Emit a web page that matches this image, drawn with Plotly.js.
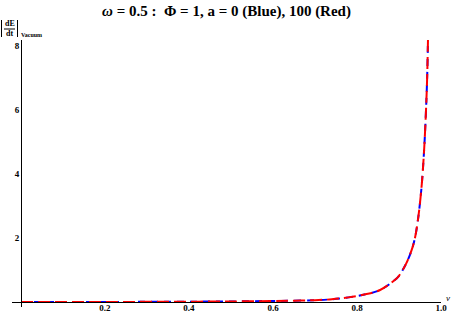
<!DOCTYPE html>
<html>
<head>
<meta charset="utf-8">
<script src="https://cdn.plot.ly/plotly-3.0.1.min.js"></script>
<style>html,body{margin:0;padding:0;background:#fff;}#chart{width:453px;height:314px;}</style>
</head>
<body>
<div id="chart"></div>
<script>
// Data
var vBlue = [0, 0.1, 0.2, 0.3, 0.4, 0.5, 0.6, 0.65, 0.7, 0.74, 0.78, 0.82, 0.855, 0.89, 0.9, 0.917, 0.93, 0.938, 0.945, 0.95, 0.955, 0.96, 0.964, 0.967, 0.969];
var eBlue = [0, 0.0003, 0.002, 0.005, 0.01, 0.018, 0.032, 0.042, 0.058, 0.085, 0.145, 0.24, 0.375, 0.69, 0.82, 1.2, 1.62, 2.0, 2.56, 3.1, 3.8, 4.8, 5.9, 7.0, 8.19];
var vRed = [0, 0.1, 0.2, 0.3, 0.4, 0.5, 0.6, 0.65, 0.7, 0.74, 0.78, 0.82, 0.855, 0.89, 0.9, 0.917, 0.93, 0.938, 0.945, 0.95, 0.955, 0.96, 0.964, 0.967, 0.969];
var eRed = [0, 0.0003, 0.002, 0.005, 0.01, 0.018, 0.032, 0.042, 0.058, 0.085, 0.145, 0.24, 0.375, 0.69, 0.82, 1.2, 1.62, 2.0, 2.56, 3.1, 3.8, 4.8, 5.9, 7.0, 8.19];
var xTickVals = [0.2, 0.4, 0.6, 0.8, 1.0];
var xTickText = ["0.2", "0.4", "0.6", "0.8", "1.0"];
var yTickVals = [2, 4, 6, 8];
var yTickText = ["2", "4", "6", "8"];

var W = 453, H = 314, ML = 12, MR = 12, MT = 40, MB = 7;
var PW = W - ML - MR, PH = H - MT - MB;
function px(x) { return (x - ML) / PW; }
function py(y) { return (H - MB - y) / PH; }

var serif = "Liberation Serif, Times New Roman, serif";

var traces = [
  {x: vBlue, y: eBlue, mode: 'lines', line: {color: 'rgb(0,0,255)', width: 2, dash: '7px,6px', shape: 'spline'}, hoverinfo: 'skip'},
  {x: vRed, y: eRed, mode: 'lines', line: {color: 'rgb(255,0,0)', width: 2, dash: '12px,5px', shape: 'spline'}, hoverinfo: 'skip'}
];

var layout = {
  width: W, height: H,
  margin: {l: ML, r: MR, t: MT, b: MB, pad: 0},
  paper_bgcolor: '#fff', plot_bgcolor: '#fff',
  showlegend: false,
  title: {
    text: '<i>ω</i> = 0.5 :\u00a0 Φ = 1, a = 0 (Blue), 100 (Red)',
    font: {family: serif, size: 15, color: '#000', weight: 'bold'},
    x: 0.5, xanchor: 'center', y: 1 - 11 / H, yanchor: 'middle'
  },
  xaxis: {
    range: [-0.0214, 1.0], anchor: 'free', position: py(302),
    showgrid: false, zeroline: false, showline: true, linecolor: '#000', linewidth: 1,
    ticks: '', tickmode: 'array', tickvals: xTickVals, ticktext: xTickText,
    ticklabelstandoff: -3,
    tickfont: {family: serif, size: 9, color: '#000', weight: 'bold'}
  },
  yaxis: {
    range: [-0.156, 8.19], anchor: 'free', position: px(21),
    showgrid: false, zeroline: false, showline: true, linecolor: '#000', linewidth: 1,
    ticks: '', tickmode: 'array', tickvals: yTickVals, ticktext: yTickText,
    tickfont: {family: serif, size: 9, color: '#000', weight: 'bold'}
  },
  shapes: [
    {type: 'line', xref: 'paper', yref: 'paper', x0: px(1.5), x1: px(1.5), y0: py(20), y1: py(37), line: {color: '#000', width: 1}},
    {type: 'line', xref: 'paper', yref: 'paper', x0: px(4), x1: px(15), y0: py(29), y1: py(29), line: {color: '#000', width: 1}},
    {type: 'line', xref: 'paper', yref: 'paper', x0: px(17.5), x1: px(17.5), y0: py(20), y1: py(37), line: {color: '#000', width: 1}}
  ],
  annotations: [
    {text: 'dE', xref: 'paper', yref: 'paper', x: px(9.5), y: py(23.5), xanchor: 'center', yanchor: 'middle', showarrow: false, font: {family: serif, size: 8, color: '#000', weight: 'bold'}},
    {text: 'dt', xref: 'paper', yref: 'paper', x: px(9.5), y: py(34), xanchor: 'center', yanchor: 'middle', showarrow: false, font: {family: serif, size: 8, color: '#000', weight: 'bold'}},
    {text: 'Vacuum', xref: 'paper', yref: 'paper', x: px(18.5), y: py(34.5), xanchor: 'left', yanchor: 'middle', showarrow: false, font: {family: serif, size: 6, color: '#000', weight: 'bold'}},
    {text: '<i>v</i>', xref: 'paper', yref: 'paper', x: px(444), y: py(297.5), xanchor: 'left', yanchor: 'middle', showarrow: false, font: {family: serif, size: 9, color: '#000'}}
  ]
};

Plotly.newPlot('chart', traces, layout, {staticPlot: true, displayModeBar: false});
</script>
</body>
</html>
